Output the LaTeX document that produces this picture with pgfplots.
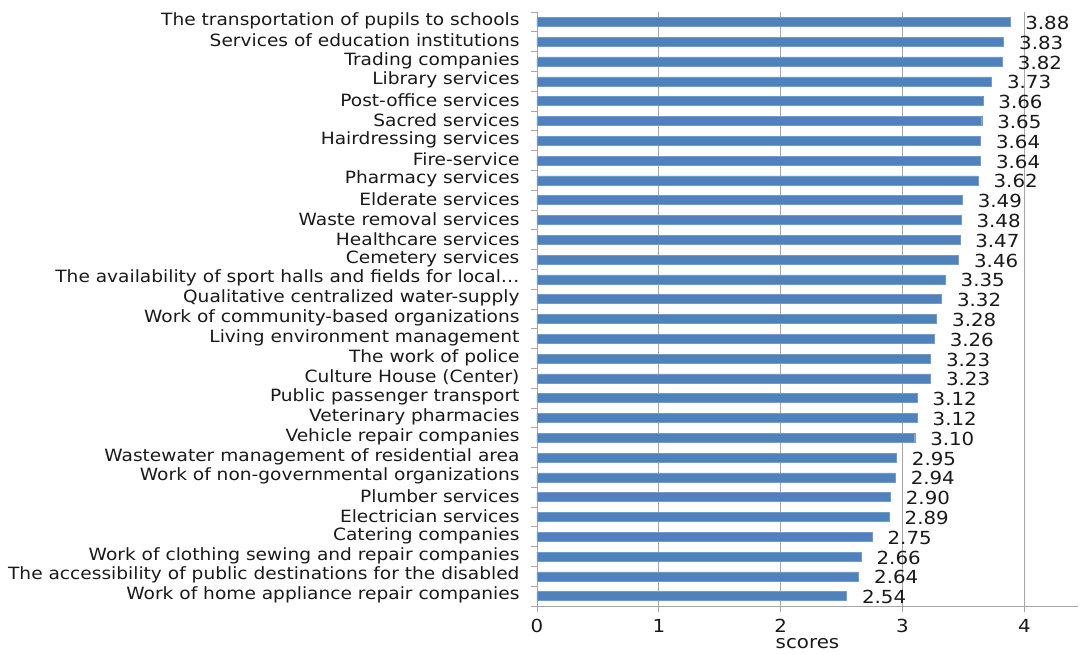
\documentclass[border=0pt]{standalone}
\usepackage{fontspec}
\setmainfont{DejaVu Sans}[FakeStretch=1.1]
\usepackage{pgfplots}
\usepackage{pgfplotstable}
\pgfplotsset{compat=1.18}
\definecolor{barblue}{HTML}{4F81BD}
\definecolor{gridgray}{HTML}{A6A6A6}
\pgfplotstableread{
y v
0 3.88
1 3.83
2 3.82
3 3.73
4 3.66
5 3.65
6 3.64
7 3.64
8 3.62
9 3.49
10 3.48
11 3.47
12 3.46
13 3.35
14 3.32
15 3.28
16 3.26
17 3.23
18 3.23
19 3.12
20 3.12
21 3.10
22 2.95
23 2.94
24 2.90
25 2.89
26 2.75
27 2.66
28 2.64
29 2.54
}\datatable
\begin{document}
\begin{tikzpicture}
\useasboundingbox (-537pt,-49pt) rectangle (544pt,606pt);
\begin{axis}[
  at={(0pt,0pt)}, anchor=south west,
  scale only axis, width=541pt, height=594pt,
  xbar, bar width=9pt,
  xmin=0, xmax=4.44,
  ymin=-0.5, ymax=29.5, y dir=reverse,
  axis x line*=bottom, axis y line*=left,
  axis line style={gridgray, line width=0.8pt},
  xtick={0,1,2,3,4},
  xmajorgrids, grid style={gridgray, line width=0.8pt},
  ytick={0,...,29},
  yticklabels={The transportation of pupils to schools,Services of education institutions,Trading companies,Library services,Post-office services,Sacred services,Hairdressing services,Fire-service,Pharmacy services,Elderate services\ ,Waste removal services,Healthcare services,Cemetery services,The availability of sport halls and fields for local…,Qualitative centralized water-supply,Work of community-based organizations,Living environment management,The work of police\ ,Culture House (Center),Public passenger transport,Veterinary pharmacies,Vehicle repair companies,Wastewater management of residential area,Work of non-governmental organizations,Plumber services,Electrician services,Catering companies,Work of clothing sewing and repair companies,The accessibility of public destinations for the disabled,Work of home appliance repair companies},
  minor ytick={-0.5,0.5,...,29.5},
  tick align=outside,
  major tick length=6pt, minor tick length=6pt,
  major y tick style={draw=none},
  tick style={gridgray, line width=0.8pt},
  minor tick style={gridgray, line width=0.8pt},
  /pgf/number format/assume math mode=true,
  yticklabel style={font=\fontsize{16.9}{17}\selectfont, text=black!90, xshift=-8pt, yshift=1pt},
  xticklabel style={font=\fontsize{18}{18}\selectfont, text=black!90, yshift=-4pt},
  xlabel={scores},
  xlabel style={font=\fontsize{18}{18}\selectfont, text=black!90, yshift=-1pt, inner sep=1pt},
  nodes near coords={\pgfmathprintnumber[fixed,precision=2,zerofill,assume math mode=true]{\pgfplotspointmeta}},
  point meta=x,
  every node near coord/.append style={font=\fontsize{18}{18}\selectfont, text=black!90, anchor=west, xshift=12pt, yshift=-1pt},
]
\addplot[fill=barblue, draw=barblue!80!white] table[x=v, y=y] {\datatable};
\end{axis}
\end{tikzpicture}
\end{document}
